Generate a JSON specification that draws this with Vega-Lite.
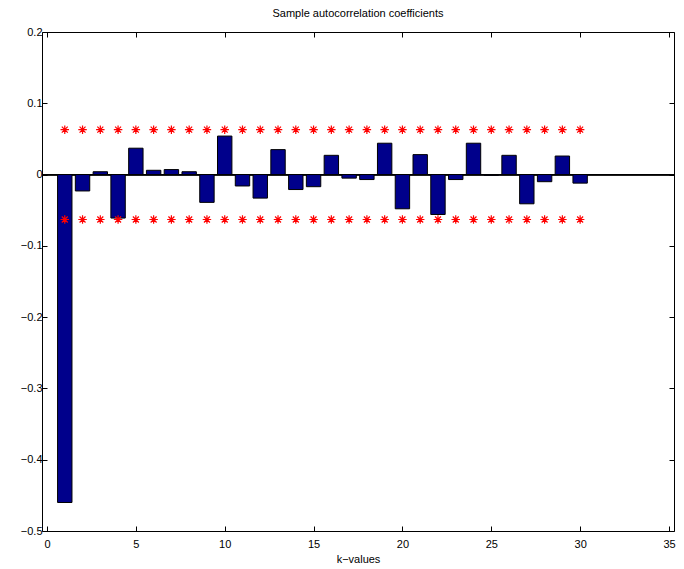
{
  "$schema": "https://vega.github.io/schema/vega-lite/v6.json",
  "width": 632,
  "height": 499,
  "autosize": "none",
  "padding": {"left": 42, "top": 32, "right": 10, "bottom": 38},
  "background": "white",
  "title": {"text": "Sample autocorrelation coefficients", "font": "Liberation Sans", "fontSize": 11, "fontWeight": "normal", "color": "black", "offset": 7},
  "config": {
    "view": {"stroke": "black", "strokeWidth": 1},
    "axis": {"grid": false, "domain": false, "tickColor": "black", "tickSize": -5, "labelFont": "Liberation Sans", "labelFontSize": 11, "labelColor": "black", "titleFont": "Liberation Sans", "titleFontSize": 11, "titleFontWeight": "normal", "titleColor": "black"}
  },
  "data": {"values": [
    {"k": 1, "r": -0.46, "upper": 0.063, "lower": -0.063},
    {"k": 2, "r": -0.023, "upper": 0.063, "lower": -0.063},
    {"k": 3, "r": 0.004, "upper": 0.063, "lower": -0.063},
    {"k": 4, "r": -0.061, "upper": 0.063, "lower": -0.063},
    {"k": 5, "r": 0.037, "upper": 0.063, "lower": -0.063},
    {"k": 6, "r": 0.006, "upper": 0.063, "lower": -0.063},
    {"k": 7, "r": 0.007, "upper": 0.063, "lower": -0.063},
    {"k": 8, "r": 0.004, "upper": 0.063, "lower": -0.063},
    {"k": 9, "r": -0.039, "upper": 0.063, "lower": -0.063},
    {"k": 10, "r": 0.054, "upper": 0.063, "lower": -0.063},
    {"k": 11, "r": -0.016, "upper": 0.063, "lower": -0.063},
    {"k": 12, "r": -0.033, "upper": 0.063, "lower": -0.063},
    {"k": 13, "r": 0.035, "upper": 0.063, "lower": -0.063},
    {"k": 14, "r": -0.021, "upper": 0.063, "lower": -0.063},
    {"k": 15, "r": -0.017, "upper": 0.063, "lower": -0.063},
    {"k": 16, "r": 0.027, "upper": 0.063, "lower": -0.063},
    {"k": 17, "r": -0.005, "upper": 0.063, "lower": -0.063},
    {"k": 18, "r": -0.007, "upper": 0.063, "lower": -0.063},
    {"k": 19, "r": 0.044, "upper": 0.063, "lower": -0.063},
    {"k": 20, "r": -0.048, "upper": 0.063, "lower": -0.063},
    {"k": 21, "r": 0.028, "upper": 0.063, "lower": -0.063},
    {"k": 22, "r": -0.056, "upper": 0.063, "lower": -0.063},
    {"k": 23, "r": -0.007, "upper": 0.063, "lower": -0.063},
    {"k": 24, "r": 0.044, "upper": 0.063, "lower": -0.063},
    {"k": 25, "r": -0.001, "upper": 0.063, "lower": -0.063},
    {"k": 26, "r": 0.027, "upper": 0.063, "lower": -0.063},
    {"k": 27, "r": -0.041, "upper": 0.063, "lower": -0.063},
    {"k": 28, "r": -0.01, "upper": 0.063, "lower": -0.063},
    {"k": 29, "r": 0.026, "upper": 0.063, "lower": -0.063},
    {"k": 30, "r": -0.012, "upper": 0.063, "lower": -0.063}
  ]},
  "layer": [
    {
      "mark": {"type": "rule", "color": "black", "strokeWidth": 1},
      "encoding": {"y": {"datum": 0, "type": "quantitative", "scale": {"domain": [-0.5, 0.2], "nice": false}, "axis": null}}
    },
    {
      "mark": {"type": "bar", "width": 14.4, "fill": "#00008B", "stroke": "black", "strokeWidth": 1},
      "encoding": {
        "x": {"field": "k", "type": "quantitative", "scale": {"domain": [0, 35], "nice": false}, "axis": {"orient": "bottom", "values": [0, 5, 10, 15, 20, 25, 30, 35], "title": "k−values", "labelPadding": 12, "titlePadding": 4, "format": "d"}},
        "y": {"field": "r", "type": "quantitative", "scale": {"domain": [-0.5, 0.2], "nice": false}, "axis": {"orient": "left", "values": [-0.5, -0.4, -0.3, -0.2, -0.1, 0, 0.1, 0.2], "title": null, "labelPadding": 5, "format": "~g"}}
      }
    },
    {
      "mark": {"type": "point", "shape": "M-1,0L1,0M0,-1L0,1M-0.7,-0.7L0.7,0.7M-0.7,0.7L0.7,-0.7", "filled": false, "stroke": "#FF0000", "strokeWidth": 1.2, "size": 72, "opacity": 1},
      "encoding": {
        "x": {"field": "k", "type": "quantitative", "axis": {"orient": "top", "values": [0, 5, 10, 15, 20, 25, 30, 35], "labels": false, "title": null}},
        "y": {"field": "upper", "type": "quantitative", "axis": {"orient": "right", "values": [-0.5, -0.4, -0.3, -0.2, -0.1, 0, 0.1, 0.2], "labels": false, "title": null}}
      }
    },
    {
      "mark": {"type": "point", "shape": "M-1,0L1,0M0,-1L0,1M-0.7,-0.7L0.7,0.7M-0.7,0.7L0.7,-0.7", "filled": false, "stroke": "#FF0000", "strokeWidth": 1.2, "size": 72, "opacity": 1},
      "encoding": {
        "x": {"field": "k", "type": "quantitative", "axis": null},
        "y": {"field": "lower", "type": "quantitative", "axis": null}
      }
    }
  ],
  "resolve": {"axis": {"x": "independent", "y": "independent"}}
}
